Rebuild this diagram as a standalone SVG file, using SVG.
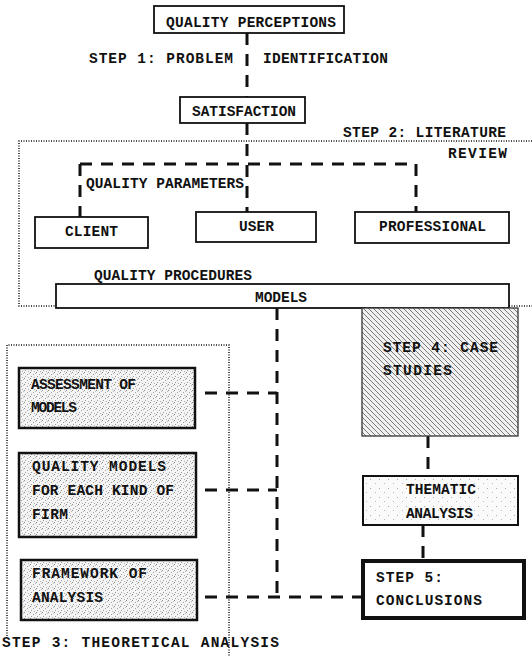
<svg xmlns="http://www.w3.org/2000/svg" width="532" height="656" viewBox="0 0 532 656">
<defs>
<pattern id="stip" width="6" height="6" patternUnits="userSpaceOnUse">
<rect width="6" height="6" fill="#f4f4f4"/>
<rect x="0" y="0" width="1" height="1" fill="#8a8a8a"/>
<rect x="3" y="2" width="1" height="1" fill="#a0a0a0"/>
<rect x="1" y="4" width="1" height="1" fill="#9a9a9a"/>
<rect x="4" y="5" width="1" height="1" fill="#b0b0b0"/>
<rect x="5" y="1" width="1" height="1" fill="#b8b8b8"/>
</pattern>
<pattern id="stip2" width="9" height="9" patternUnits="userSpaceOnUse">
<rect width="9" height="9" fill="#fafafa"/>
<rect x="1" y="2" width="1" height="1" fill="#aaa"/>
<rect x="6" y="6" width="1" height="1" fill="#bbb"/>
</pattern>
<pattern id="hatch" width="5" height="5" patternUnits="userSpaceOnUse">
<rect width="5" height="5" fill="#f0f0f0"/>
<path d="M-1,-1 L6,6 M-1,4 L1,6 M4,-1 L6,1" stroke="#7a7a7a" stroke-width="1"/>
</pattern>
</defs>
<style>
text{font-family:"Liberation Mono","DejaVu Sans Mono",monospace;font-weight:bold;font-size:14.5px;fill:#111;}
.box{fill:#fff;stroke:#111;stroke-width:1.8;}
.sbox{fill:url(#stip);stroke:#111;stroke-width:2.5;}
.dash{fill:none;stroke:#111;stroke-width:3;stroke-dasharray:12 9;}
.dot{fill:none;stroke:#111;stroke-width:1.5;stroke-dasharray:1 1.5;}
</style>
<rect width="532" height="656" fill="#fff"/>

<g id="regions">
<path class="dot" d="M532,141 H19 V306 H56 M509,306 H532"/>
<path class="dot" d="M7,636 V345 H229 V656"/>
</g>

<g id="connectors">
<path class="dash" d="M247,33 V97"/>
<path class="dash" d="M247,123 V212"/>
<path class="dash" d="M80,164 H416"/>
<path class="dash" d="M80,164 V217"/>
<path class="dash" d="M416,164 V212"/>
<path class="dash" d="M277,308 V597"/>
<path class="dash" d="M205,393 H277"/>
<path class="dash" d="M205,490 H277"/>
<path class="dash" d="M205,597 H362"/>
<path class="dash" d="M428,436 V476"/>
<path class="dash" d="M423,525 V561"/>
</g>

<g id="labels">
<text x="89" y="63" textLength="144" lengthAdjust="spacing">STEP 1: PROBLEM</text>
<text x="263" y="63" textLength="125" lengthAdjust="spacing">IDENTIFICATION</text>
<text x="343" y="137" textLength="163" lengthAdjust="spacing">STEP 2: LITERATURE</text>
<text x="448" y="158" textLength="59" lengthAdjust="spacing">REVIEW</text>
<text x="86" y="188" textLength="158" lengthAdjust="spacing">QUALITY PARAMETERS</text>
<text x="94" y="280" textLength="158" lengthAdjust="spacing">QUALITY PROCEDURES</text>
<text x="2" y="647" textLength="277" lengthAdjust="spacing">STEP 3: THEORETICAL ANALYSIS</text>
</g>

<g id="quality-perceptions">
<rect class="box" x="154" y="6" width="190" height="27"/>
<text x="166" y="27" textLength="170" lengthAdjust="spacing">QUALITY PERCEPTIONS</text>
</g>

<g id="satisfaction">
<rect class="box" x="180" y="97" width="125" height="26"/>
<text x="192" y="116" textLength="104" lengthAdjust="spacing">SATISFACTION</text>
</g>

<g id="client">
<rect class="box" x="35" y="217" width="113" height="31"/>
<text x="65" y="236" textLength="53" lengthAdjust="spacing">CLIENT</text>
</g>

<g id="user">
<rect class="box" x="196" y="212" width="120" height="30"/>
<text x="239" y="231" textLength="35" lengthAdjust="spacing">USER</text>
</g>

<g id="professional">
<rect class="box" x="355" y="212" width="154" height="31"/>
<text x="379" y="231" textLength="107" lengthAdjust="spacing">PROFESSIONAL</text>
</g>

<g id="models">
<rect class="box" x="56" y="284" width="453" height="24"/>
<text x="255" y="302" textLength="52" lengthAdjust="spacing">MODELS</text>
</g>

<g id="assessment">
<rect class="sbox" x="19" y="368" width="176" height="60"/>
<text x="31" y="389" textLength="105" lengthAdjust="spacing">ASSESSMENT OF</text>
<text x="31" y="412" textLength="46" lengthAdjust="spacing">MODELS</text>
</g>

<g id="quality-models">
<rect class="sbox" x="19" y="453" width="177" height="84"/>
<text x="32" y="471" textLength="134" lengthAdjust="spacing">QUALITY MODELS</text>
<text x="32" y="495" textLength="142" lengthAdjust="spacing">FOR EACH KIND OF</text>
<text x="32" y="519" textLength="36" lengthAdjust="spacing">FIRM</text>
</g>

<g id="framework">
<rect class="sbox" x="21" y="560" width="176" height="60"/>
<text x="32" y="578" textLength="115" lengthAdjust="spacing">FRAMEWORK OF</text>
<text x="32" y="602" textLength="71" lengthAdjust="spacing">ANALYSIS</text>
</g>

<g id="case-studies">
<rect x="362" y="308" width="156" height="128" fill="url(#hatch)" stroke="#333" stroke-width="1.3"/>
<text x="383" y="352" textLength="115" lengthAdjust="spacing">STEP 4: CASE</text>
<text x="383" y="375" textLength="69" lengthAdjust="spacing">STUDIES</text>
</g>

<g id="thematic-analysis">
<rect x="363" y="476" width="155" height="49" fill="url(#stip2)" stroke="#111" stroke-width="2"/>
<text x="406" y="494" textLength="70" lengthAdjust="spacing">THEMATIC</text>
<text x="406" y="518" textLength="67" lengthAdjust="spacing">ANALYSIS</text>
</g>

<g id="conclusions">
<rect x="363" y="561" width="161" height="57" fill="#fff" stroke="#111" stroke-width="4"/>
<text x="376" y="582" textLength="67" lengthAdjust="spacing">STEP 5:</text>
<text x="376" y="605" textLength="106" lengthAdjust="spacing">CONCLUSIONS</text>
</g>
</svg>
